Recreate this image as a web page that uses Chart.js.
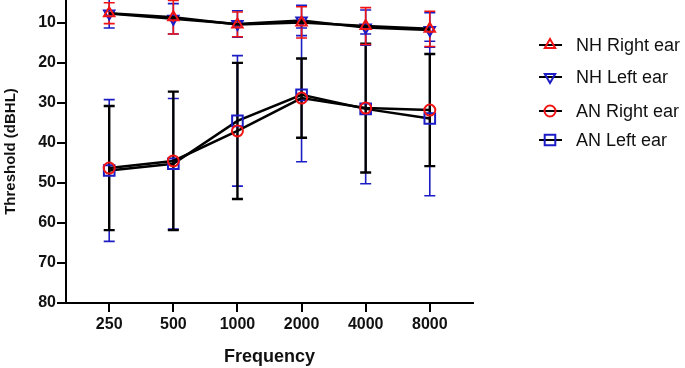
<!DOCTYPE html>
<html>
<head>
<meta charset="utf-8">
<script src="https://cdn.jsdelivr.net/npm/chart.js@4.4.0/dist/chart.umd.min.js"></script>
<style>
  html, body { margin: 0; padding: 0; background: #fff; }
  #wrap { width: 685px; height: 368px; }
</style>
</head>
<body>
<div id="wrap"><canvas id="chart" width="685" height="368"></canvas></div>
<script>
// frequencies (Hz) on the x axis
const frequencies = ['250', '500', '1000', '2000', '4000', '8000'];
const yTicks = [10, 20, 30, 40, 50, 60, 70, 80];

// mean thresholds (dBHL) and standard deviations
const nhRightMean = [7.6, 8.6, 10.4, 9.9, 10.8, 11.5];
const nhRightSd = [2.6, 4.2, 3.1, 3.9, 4.6, 4.4];
const nhLeftMean = [7.7, 9.0, 10.3, 9.4, 11.2, 11.8];
const nhLeftSd = [3.6, 3.8, 3.3, 3.8, 4.4, 4.3];
const anRightMean = [46.3, 44.5, 37.0, 28.8, 31.3, 31.8];
const anRightSd = [15.5, 17.3, 17.0, 9.9, 16.1, 14.0];
const anLeftMean = [46.9, 45.2, 34.5, 28.0, 31.5, 33.9];
const anLeftSd = [17.7, 16.3, 16.3, 16.7, 18.7, 19.3];

const RED = '#f01414';
const BLUE = '#1c1cc4';
const FONT = "'Liberation Sans', Arial, sans-serif";

const toPoints = arr => arr.map((v, i) => ({ x: i, y: v }));

const series = [
    { label: 'NH Right ear', mean: nhRightMean, sd: nhRightSd, color: RED, bar: RED, barWidth: 1.6, style: 'triangle', rot: 0, r: 6 },
    { label: 'NH Left ear', mean: nhLeftMean, sd: nhLeftSd, color: BLUE, bar: BLUE, barWidth: 1.6, style: 'triangle', rot: 180, r: 6 },
    { label: 'AN Right ear', mean: anRightMean, sd: anRightSd, color: RED, bar: '#000', barWidth: 2.4, style: 'circle', rot: 0, r: 5.5 },
    { label: 'AN Left ear', mean: anLeftMean, sd: anLeftSd, color: BLUE, bar: BLUE, barWidth: 1.6, style: 'rect', rot: 0, r: 7.5 }
];

const errorBars = {
    id: 'errorBars',
    beforeDatasetsDraw(chart) {
        const { ctx, chartArea, scales: { x, y } } = chart;
        ctx.save();
        ctx.beginPath();
        ctx.rect(chartArea.left, chartArea.top, chartArea.right - chartArea.left, chartArea.bottom - chartArea.top);
        ctx.clip();
        // draw back to front: last series first
        [...series].reverse().forEach(s => {
            ctx.strokeStyle = s.bar;
            ctx.lineWidth = s.barWidth;
            s.mean.forEach((m, i) => {
                const px = x.getPixelForValue(i);
                const top = y.getPixelForValue(m - s.sd[i]);
                const bot = y.getPixelForValue(m + s.sd[i]);
                ctx.beginPath();
                ctx.moveTo(px, top); ctx.lineTo(px, bot);
                ctx.moveTo(px - 5.5, top); ctx.lineTo(px + 5.5, top);
                ctx.moveTo(px - 5.5, bot); ctx.lineTo(px + 5.5, bot);
                ctx.stroke();
            });
        });
        ctx.restore();
    }
};

const sideLegend = {
    id: 'sideLegend',
    afterDraw(chart) {
        const { ctx } = chart;
        const rows = [45, 77, 111, 140];
        ctx.save();
        series.forEach((s, i) => {
            const yy = rows[i];
            ctx.strokeStyle = '#000';
            ctx.lineWidth = 2;
            ctx.beginPath();
            ctx.moveTo(539, yy); ctx.lineTo(562, yy);
            ctx.stroke();
            ctx.strokeStyle = s.color;
            ctx.fillStyle = 'rgba(0,0,0,0)';
            ctx.lineWidth = 2;
            Chart.helpers.drawPoint(ctx, { pointStyle: s.style, rotation: s.rot, radius: s.r, borderWidth: 2 }, 550, yy);
            ctx.fillStyle = '#111';
            ctx.font = '18px ' + FONT;
            ctx.textBaseline = 'middle';
            ctx.textAlign = 'left';
            ctx.fillText(s.label, 576, yy + 1);
        });
        ctx.restore();
    }
};

new Chart(document.getElementById('chart'), {
    type: 'line',
    data: {
        datasets: series.map(s => ({
            label: s.label,
            data: toPoints(s.mean),
            borderColor: '#000',
            borderWidth: 2.5,
            pointStyle: s.style,
            pointRotation: s.rot,
            pointRadius: s.r,
            pointBorderColor: s.color,
            pointBackgroundColor: 'rgba(0,0,0,0)',
            pointBorderWidth: 2,
            tension: 0,
            fill: false
        }))
    },
    options: {
        responsive: false,
        animation: false,
        layout: { autoPadding: false, padding: { left: 0, right: 212, top: 0, bottom: 0 } },
        plugins: { legend: { display: false }, tooltip: { enabled: false } },
        scales: {
            x: {
                type: 'linear',
                min: -0.674,
                max: 5.674,
                afterBuildTicks: scale => { scale.ticks = frequencies.map((f, i) => ({ value: i })); },
                afterFit: scale => { scale.height = 65; scale.paddingLeft = 0; scale.paddingRight = 0; },
                ticks: {
                    callback: v => frequencies[v],
                    color: '#111',
                    font: { family: FONT, size: 16, weight: 'bold' },
                    padding: 3,
                    maxRotation: 0
                },
                grid: { drawOnChartArea: false, drawTicks: true, tickLength: 9, color: '#000', lineWidth: 2 },
                border: { color: '#000', width: 2 },
                title: {
                    display: true,
                    text: 'Frequency',
                    color: '#111',
                    font: { family: FONT, size: 18, weight: 'bold' },
                    padding: { top: 0, bottom: 0 }
                }
            },
            y: {
                type: 'linear',
                reverse: true,
                min: 4.3,
                max: 80,
                afterBuildTicks: scale => { scale.ticks = yTicks.map(v => ({ value: v })); },
                afterFit: scale => { scale.width = 66; scale.paddingTop = 0; scale.paddingBottom = 0; },
                ticks: {
                    color: '#111',
                    font: { family: FONT, size: 16, weight: 'bold' },
                    padding: 1
                },
                grid: { drawOnChartArea: false, drawTicks: true, tickLength: 9, color: '#000', lineWidth: 2 },
                border: { color: '#000', width: 2 },
                title: {
                    display: true,
                    text: 'Threshold (dBHL)',
                    color: '#111',
                    font: { family: FONT, size: 15, weight: 'bold' },
                    padding: { top: 2, bottom: 0 }
                }
            }
        }
    },
    plugins: [errorBars, sideLegend]
});
</script>
</body>
</html>
